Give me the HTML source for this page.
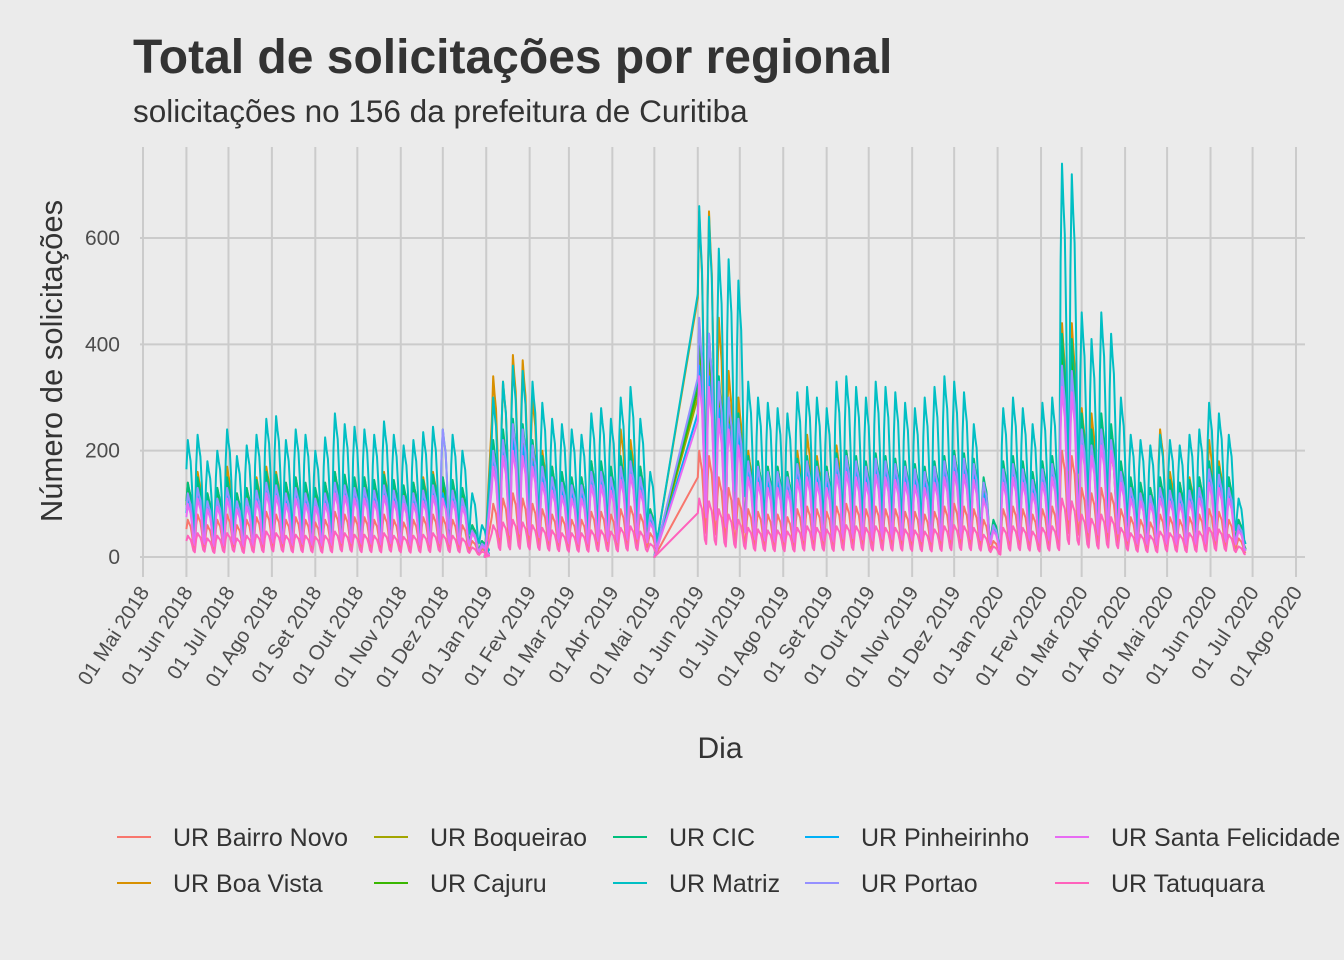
<!DOCTYPE html>
<html><head><meta charset="utf-8">
<style>
html,body{margin:0;padding:0;background:#ebebeb;}
svg{display:block;font-family:"Liberation Sans",Helvetica,sans-serif;}
</style></head>
<body>
<svg id="chart" width="1344" height="960" viewBox="0 0 1344 960">
<rect width="1344" height="960" fill="#ebebeb"/>
<text x="133" y="73" font-size="48" font-weight="bold" fill="#333">Total de solicitações por regional</text>
<text x="133" y="122" font-size="31.5" fill="#333">solicitações no 156 da prefeitura de Curitiba</text>
<g id="grid"></g>
<g id="series"></g>
<g id="axes"></g>
<text x="0" y="0" transform="translate(62,361) rotate(-90)" text-anchor="middle" font-size="31" fill="#333">Número de solicitações</text>
<text x="720" y="758" text-anchor="middle" font-size="30" fill="#333">Dia</text>
<g id="legend"></g>
</svg>
<script>
// ---- data ----
const seriesNames = ["UR Bairro Novo","UR Boa Vista","UR Boqueirao","UR Cajuru","UR CIC","UR Matriz","UR Pinheirinho","UR Portao","UR Santa Felicidade","UR Tatuquara"];
const seriesColors = ["#F8766D","#D89000","#A3A500","#39B600","#00BF7D","#00BFC4","#00B0F6","#9590FF","#E76BF3","#FF62BC"];
const yTicks = [0,200,400,600];
const weekDays = [];
for (let d=31; d<=241; d+=7) weekDays.push(d);
weekDays.push(244);
for (let d=249; d<=361; d+=7) weekDays.push(d);
weekDays.push(365);
for (let d=396; d<=781; d+=7) weekDays.push(d);
const bairroNovo = [70,80,60,70,80,60,70,75,85,80,70,75,70,65,70,85,80,75,75,70,80,70,65,70,75,80,75,70,60,30,15,0,
 100,110,120,110,100,90,80,75,70,70,85,85,80,90,95,80,45,0,
 200,190,150,130,110,90,85,80,80,75,90,95,90,85,95,100,95,90,95,90,90,85,85,80,85,95,100,95,90,70,30,
 90,95,90,80,90,95,200,190,130,120,130,120,90,75,70,65,80,75,70,75,80,90,85,70,35];
const boaVista = [140,160,120,130,170,120,130,150,170,160,140,150,130,120,140,160,150,140,150,140,160,140,130,140,150,160,150,140,120,60,30,0,
 340,330,380,370,300,200,170,150,140,150,180,170,160,240,220,170,90,0,
 650,650,450,350,300,200,180,170,170,160,200,230,190,170,210,200,180,170,190,180,170,170,160,150,170,180,200,190,170,130,60,
 170,180,160,150,170,180,440,440,280,270,260,200,150,140,130,130,240,160,140,150,150,220,180,150,70];
const boqueirao = [120,130,100,110,130,100,110,125,140,140,120,130,120,110,120,140,135,130,130,125,135,125,115,120,125,135,130,125,110,50,25,0,
 200,220,240,230,200,170,150,140,135,130,160,160,150,170,180,150,80,0,
 400,380,300,280,250,170,160,150,150,145,165,170,160,150,175,180,170,160,175,170,165,160,155,150,160,170,180,175,165,130,60,
 160,170,160,140,160,170,380,370,250,220,250,230,160,130,120,115,130,125,120,125,130,160,150,130,60];
const cajuru = [130,140,110,120,140,110,120,135,150,145,130,140,130,120,130,150,145,140,140,135,145,135,125,130,135,145,140,135,120,55,25,0,
 210,230,250,240,210,180,160,150,140,140,170,170,160,180,190,160,85,0,
 420,400,320,290,260,180,170,160,160,150,175,180,170,160,185,190,180,170,185,180,175,170,165,160,170,180,190,185,175,140,65,
 170,180,170,150,170,180,400,390,260,230,260,240,170,140,130,120,140,135,130,135,140,170,160,140,65];
const cic = [140,150,120,130,150,120,130,145,160,155,140,150,140,130,140,160,155,150,150,145,155,145,135,140,145,155,150,145,130,60,30,0,
 220,240,260,250,220,190,170,160,150,150,180,180,170,190,200,170,90,0,
 440,420,340,300,270,190,180,170,170,160,185,190,180,170,195,200,190,180,195,190,185,180,175,170,180,190,200,195,185,150,70,
 180,190,180,160,180,190,420,410,270,240,270,250,180,150,140,130,150,145,140,145,150,180,170,150,70];
const matriz = [220,230,180,200,240,190,210,230,260,265,220,240,230,200,225,270,250,245,240,230,255,230,210,220,235,245,240,230,200,120,60,0,
 300,330,360,350,330,290,260,250,240,230,270,280,260,300,320,260,160,0,
 660,640,580,560,520,330,300,290,280,270,310,320,300,280,330,340,320,300,330,320,310,290,280,300,320,340,330,310,250,120,60,
 280,300,280,250,290,300,740,720,460,410,460,420,300,230,220,210,230,220,210,230,240,290,270,230,110];
const pinheirinho = [110,120,95,100,120,95,100,115,130,125,110,120,110,100,110,130,125,120,120,115,125,115,105,110,115,125,120,115,100,45,20,0,
 180,200,220,210,180,150,135,125,120,120,145,145,135,155,165,135,70,0,
 360,340,280,250,230,160,150,140,140,135,155,160,150,140,165,170,160,150,165,160,155,150,145,140,150,160,170,165,155,120,55,
 150,160,150,130,150,160,340,330,230,200,230,210,150,120,110,105,120,115,110,115,120,150,140,120,55];
const portao = [120,130,105,110,130,105,110,125,140,135,120,130,120,110,120,140,135,130,130,125,135,125,115,120,125,135,240,125,110,50,25,0,
 200,220,250,240,210,170,150,140,135,135,160,160,150,170,180,150,80,0,
 450,420,330,300,260,180,170,160,160,150,175,180,170,160,185,190,180,170,185,180,175,170,165,160,170,180,190,185,175,140,60,
 165,175,165,145,165,175,360,350,240,210,240,220,160,130,120,115,130,125,120,125,130,165,155,130,60];
const santaFelicidade = [100,110,90,95,110,90,95,105,120,115,100,110,100,95,100,120,115,110,110,105,115,105,100,100,105,115,110,105,95,45,20,0,
 170,190,200,190,170,140,125,115,110,110,135,135,125,145,155,125,65,0,
 340,320,260,240,210,150,140,130,130,125,145,150,140,130,155,160,150,140,155,150,145,140,135,130,140,150,160,155,145,110,50,
 140,150,140,120,140,150,320,310,210,190,210,200,140,110,105,100,110,105,100,105,110,140,130,110,50];
const tatuquara = [40,45,35,40,45,35,40,42,48,45,40,42,40,38,40,48,45,42,42,40,45,40,38,40,42,45,42,40,35,18,10,0,
 60,65,70,65,60,55,50,45,45,45,50,50,48,55,58,48,25,0,
 110,105,90,80,70,55,52,50,50,48,55,58,55,52,58,60,58,55,58,55,55,52,50,48,52,58,60,58,55,42,20,
 55,58,55,48,55,58,110,105,80,72,80,75,55,45,42,40,48,45,42,45,48,55,52,42,20];
const allSeries = [bairroNovo,boaVista,boqueirao,cajuru,cic,matriz,pinheirinho,portao,santaFelicidade,tatuquara];
const monthNames = ["Jan","Fev","Mar","Abr","Mai","Jun","Jul","Ago","Set","Out","Nov","Dez"];
const dayShape = [0.75,1,0.9,0.82,0.6,0.3,0.22];

const base = Date.UTC(2018,4,1);
const X0=143, X1=1296, DMAX=823;
function xs(d){ return X0 + d*(X1-X0)/DMAX; }
function ys(v){ return 557 - v*(557-238)/600; }
const NS="http://www.w3.org/2000/svg";
function mk(tag, attrs, parent){ const e=document.createElementNS(NS,tag); for(const k in attrs) e.setAttribute(k,attrs[k]); parent.appendChild(e); return e; }

const grid=document.getElementById('grid'), axes=document.getElementById('axes');
for(let i=0;i<28;i++){
  const y=2018+Math.floor((4+i)/12), m=(4+i)%12;
  const d=(Date.UTC(y,m,1)-base)/86400000;
  const x=xs(d);
  const gl=mk('line',{x1:x,x2:x,y1:147,y2:577,stroke:"#cbcbcb","stroke-width":2},grid);
  
  
  const t=mk('text',{x:x+7,y:592,"text-anchor":"end","font-size":20.5,fill:"#4d4d4d",transform:`rotate(-57 ${x+7} 592)`},axes);
  t.textContent=`01 ${monthNames[m]} ${y}`;
  
  
}
yTicks.forEach(v=>{
  const y=ys(v);
  const gl=mk('line',{x1:140,x2:1305,y1:y,y2:y,stroke:"#cbcbcb","stroke-width":2},grid);
  
  
  const t=mk('text',{x:120,y:y+7,"text-anchor":"end","font-size":21,fill:"#4d4d4d"},axes);
  t.textContent=v;
  
  
});
const sg=document.getElementById('series');
allSeries.forEach((vals,si)=>{
  let pts=[];
  vals.forEach((p,wi)=>{
    const d0=weekDays[wi];
    if(p===0){ pts.push([xs(d0),ys(0)]); return; }
    dayShape.forEach((f,k)=>pts.push([xs(d0+k),ys(p*f)]));
  });
  const path=mk('path',{d:"M"+pts.map(q=>q[0].toFixed(1)+","+q[1].toFixed(1)).join("L"),fill:"none",stroke:seriesColors[si],"stroke-width":2,"stroke-linejoin":"round"},sg);
  
  
});
const lg=document.getElementById('legend');
const colX=[117,374,613,805,1055], rowY=[837,883];
const order=[0,2,4,6,8,1,3,5,7,9];
order.forEach((si,i)=>{
  const c=i%5, r=Math.floor(i/5);
  const g=mk('g',{},lg);
  
  
  mk('line',{x1:colX[c],x2:colX[c]+34,y1:rowY[r],y2:rowY[r],stroke:seriesColors[si],"stroke-width":2},g);
  const t=mk('text',{x:colX[c]+56,y:rowY[r]+9,"font-size":25,fill:"#333"},g);
  t.textContent=seriesNames[si];
});
</script>
</body></html>
